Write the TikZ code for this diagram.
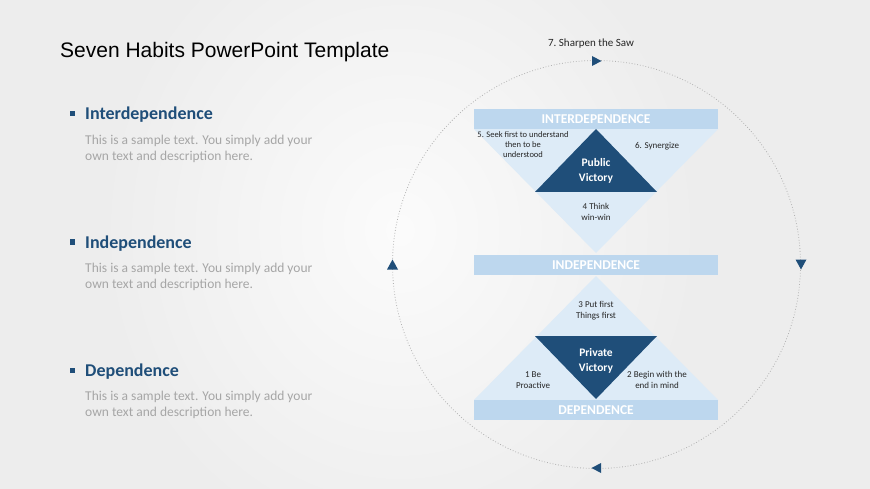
\documentclass[tikz,border=0pt]{standalone}
\usepackage{fontspec}
\setmainfont{Carlito}
\newfontfamily\titlefont{Liberation Sans}
\definecolor{navy}{HTML}{1F4E79}
\definecolor{barblue}{HTML}{BDD7EE}
\definecolor{tribl}{HTML}{DDEBF7}
\definecolor{bodygray}{HTML}{A6A6A6}
\definecolor{bg}{HTML}{EDEDED}
\begin{document}
\begin{tikzpicture}[x=1pt,y=-1pt,
  barbox/.style={fill=barblue,draw=none,minimum width=244pt,minimum height=20pt,inner sep=0pt,
     text=white,font=\fontsize{13.5}{13.5}\selectfont\bfseries},
  small/.style={font=\fontsize{8.5}{10}\selectfont,text=black!85,align=center,inner sep=0pt},
  victory/.style={font=\fontsize{11.5}{15}\selectfont\bfseries,text=white,align=center,inner sep=0pt},
  head/.style={font=\fontsize{18}{18}\selectfont\bfseries,text=navy,anchor=base west,inner sep=0pt},
  bodytext/.style={font=\fontsize{13.5}{16}\selectfont,text=bodygray,anchor=north west,align=left,inner sep=0pt},
  bulletsq/.style={fill=navy,minimum size=5pt,inner sep=0pt},
  cyc/.style={fill=navy,draw=none}]
\useasboundingbox (0,0) rectangle (870,489);
\fill[bg] (0,0) rectangle (870,489);
\shade[inner color=white!97!gray,outer color=bg] (100,-100) rectangle (700,560);
% title
\node[anchor=base west,inner sep=0pt,font=\titlefont\fontsize{21}{21}\selectfont] (title) at (60,58) {Seven Habits PowerPoint Template};
% left list
\node[bulletsq] (b1) at (72,114) {};
\node[head] (h1) at (85,120) {Interdependence};
\node[bodytext] (t1) at (85,135) {This is a sample text. You simply add your\\own text and description here.};
\node[bulletsq] (b2) at (72,242) {};
\node[head] (h2) at (85,248) {Independence};
\node[bodytext] (t2) at (85,263) {This is a sample text. You simply add your\\own text and description here.};
\node[bulletsq] (b3) at (72,370) {};
\node[head] (h3) at (85,376) {Dependence};
\node[bodytext] (t3) at (85,391) {This is a sample text. You simply add your\\own text and description here.};
% cycle circle
\coordinate (cc) at (596.5,264.5);
\draw[black!30,dotted,line width=0.8pt] (cc) circle[radius=204];
% arrowheads
\fill[cyc] (592,56) -- (601.5,61) -- (592,66) -- cycle;
\fill[cyc] (795.5,259.5) -- (806.5,259.5) -- (801,269.5) -- cycle;
\fill[cyc] (601,463) -- (591.5,468) -- (601,473) -- cycle;
\fill[cyc] (387,269.5) -- (398,269.5) -- (392.5,259.5) -- cycle;
\node[small,font=\fontsize{11}{11}\selectfont] (saw) at (591,44) {7.\ Sharpen the Saw};
% triangles
\fill[tribl] (474,129) -- (718,129) -- (596,253) -- cycle;
\fill[navy] (596,129) -- (657,192) -- (535,192) -- cycle;
\fill[tribl] (596,276) -- (718,400) -- (474,400) -- cycle;
\fill[navy] (535,336) -- (657,336) -- (596,399) -- cycle;
% bars
\node[barbox] (inter) at (596,119) {INTERDEPENDENCE};
\node[barbox] (indep) at (596,265) {INDEPENDENCE};
\node[barbox] (dep) at (596,410) {DEPENDENCE};
% labels
\node[small] (l5) at (523,145) {5. Seek first to understand\\then to be\\understood};
\node[small,font=\fontsize{9}{10}\selectfont] (l6) at (657,146) {6. Synergize};
\node[victory] (pub) at (596,171) {Public\\Victory};
\node[small,font=\fontsize{9}{11}\selectfont] (l4) at (596,212) {4 Think\\win-win};
\node[small,font=\fontsize{9}{11}\selectfont] (l3) at (596,311) {3 Put first\\Things first};
\node[victory] (priv) at (596,361) {Private\\Victory};
\node[small,font=\fontsize{9}{11}\selectfont] (l1) at (533,380) {1 Be\\Proactive};
\node[small,font=\fontsize{9}{11}\selectfont] (l2) at (657,380) {2 Begin with the\\end in mind};
\end{tikzpicture}
\end{document}
